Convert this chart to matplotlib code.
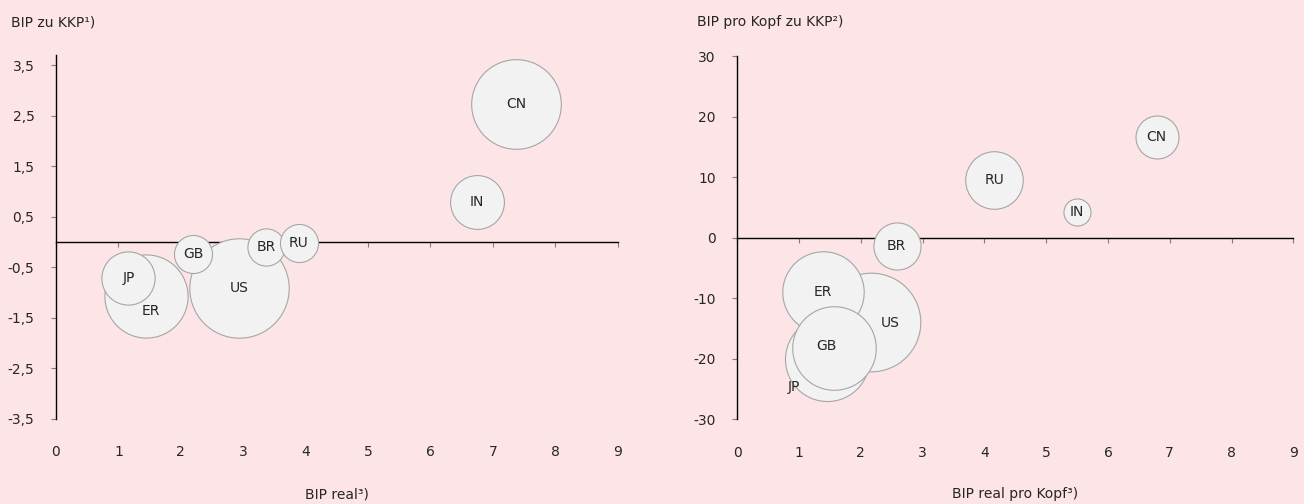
import matplotlib
matplotlib.use("Agg")
import matplotlib.pyplot as plt
import numpy as np

plt.rcParams['font.family'] = ['DejaVu Sans']

countries = ['US', 'ER', 'JP', 'GB', 'BR', 'RU', 'IN', 'CN']

# left panel: BIP real (x), BIP zu KKP (y), bubble weight (BIP KKP, Bio.)
bip_real = [2.94, 1.45, 1.16, 2.20, 3.37, 3.89, 6.74, 7.37]
bip_kkp = [-0.91, -1.07, -0.71, -0.23, -0.09, -0.01, 0.79, 2.74]
bip_weight = [15.0, 10.5, 4.3, 2.2, 2.1, 2.2, 4.4, 12.2]

# right panel: BIP real pro Kopf (x), BIP pro Kopf zu KKP (y), weight (BIP/Kopf KKP, Tsd.)
pk_real = [2.16, 1.38, 1.45, 1.56, 2.58, 4.16, 5.50, 6.79]
pk_kkp = [-13.9, -8.9, -20.1, -18.3, -1.3, 9.5, 4.3, 16.6]
pk_weight = [49.0, 33.4, 35.6, 35.2, 11.2, 16.7, 3.7, 9.3]

bg = '#fde4e6'
txt = '#262626'

fig = plt.figure(figsize=(13.04, 5.04), dpi=100, facecolor=bg)


def bubble_panel(rect, xs, ys, w, px2_per_unit, ylim, yticks, ylabels,
                 ylab, xlab, ylab_x, label_off):
    ax = fig.add_axes(rect)
    ax.set_facecolor(bg)
    # marker area in pt^2 from pixel radius
    r_px = np.sqrt(np.array(w) * px2_per_unit)
    s = (2 * r_px * 0.72) ** 2
    for i in range(len(countries)):
        ax.scatter(xs[i], ys[i], s=s[i], color='#f2f2f2', edgecolor='#a6a6a6',
                   linewidth=0.8, zorder=3 + i, clip_on=False)
        dx, dy = label_off.get(countries[i], (0, 0))
        ax.annotate(countries[i], (xs[i], ys[i]), xytext=(dx, dy),
                    textcoords='offset points', ha='center', va='center',
                    fontsize=10, color=txt, zorder=20)
    ax.set_xlim(0, 9)
    ax.set_ylim(*ylim)
    ax.set_yticks(yticks)
    ax.set_yticklabels(ylabels)
    for sp in ['top', 'right']:
        ax.spines[sp].set_visible(False)
    ax.spines['left'].set_color('black')
    ax.spines['left'].set_linewidth(1)
    ax.spines['bottom'].set_position(('data', 0))
    ax.spines['bottom'].set_color('black')
    ax.spines['bottom'].set_linewidth(1)
    ax.spines['bottom'].set_zorder(2)
    ax.set_xticks(range(10))
    ax.tick_params(axis='x', direction='out', length=3.5, color='#808080',
                   labelbottom=False)
    ax.tick_params(axis='y', direction='out', length=3.5, color='#808080',
                   pad=12, labelsize=10, labelcolor=txt)
    sec = ax.secondary_xaxis(0.0)
    sec.set_xticks(range(10))
    sec.spines['bottom'].set_visible(False)
    sec.tick_params(length=0, pad=19, labelsize=10, labelcolor=txt)
    sec.set_xlabel(xlab, fontsize=10, color=txt, labelpad=20)
    fig.text(ylab_x, 1 - 22 / 504, ylab, fontsize=10, color=txt,
             ha='left', va='center')
    return ax


lt = ['-3,5', '-2,5', '-1,5', '-0,5', '0,5', '1,5', '2,5', '3,5']
bubble_panel([56 / 1304, 85 / 504, 561.6 / 1304, 364 / 504],
             bip_real, bip_kkp, bip_weight, 164.7, (-3.5, 3.7),
             [-3.5, -2.5, -1.5, -0.5, 0.5, 1.5, 2.5, 3.5], lt,
             'BIP zu KKP¹)', 'BIP real³)', 11 / 1304,
             {'ER': (3, -11)})

rt = [-30, -20, -10, 0, 10, 20, 30]
bubble_panel([737.3 / 1304, 84.7 / 504, 556 / 1304, 363.3 / 504],
             pk_real, pk_kkp, pk_weight, 49.6, (-30, 30),
             rt, [str(v) for v in rt],
             'BIP pro Kopf zu KKP²)', 'BIP real pro Kopf³)', 697 / 1304,
             {'US': (14, -1), 'JP': (-24, -20), 'GB': (-5, 2)})

fig.savefig('out.png', dpi=100, facecolor=bg)
